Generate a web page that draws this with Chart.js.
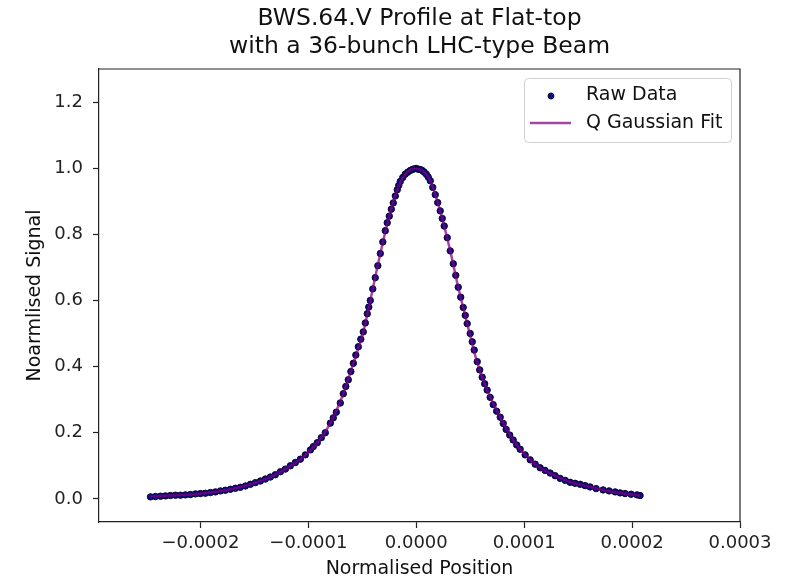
<!DOCTYPE html>
<html>
<head>
<meta charset="utf-8">
<script src="https://cdn.jsdelivr.net/npm/chart.js"></script>
<style>
  html, body { margin: 0; padding: 0; background: #fff; }
  #wrap { width: 793px; height: 580px; }
</style>
</head>
<body>
<div id="wrap"><canvas id="chart" width="793" height="580"></canvas></div>
<script>
// values
const titleLines = ['BWS.64.V Profile at Flat-top', 'with a 36-bunch LHC-type Beam'];
const xLabel = 'Normalised Position';
const yLabel = 'Noarmlised Signal';
const xTicks = [-0.0002, -0.0001, 0, 0.0001, 0.0002, 0.0003];
const yTicks = [0, 0.2, 0.4, 0.6, 0.8, 1.0, 1.2];

// raw profile samples (position, signal)
const rawPos = [
  -2.463e-4, -2.417e-4, -2.370e-4, -2.324e-4, -2.278e-4, -2.231e-4, -2.185e-4, -2.139e-4,
  -2.093e-4, -2.046e-4, -2.000e-4, -1.954e-4, -1.907e-4, -1.861e-4, -1.815e-4, -1.769e-4,
  -1.722e-4, -1.676e-4, -1.630e-4, -1.583e-4, -1.537e-4, -1.491e-4, -1.444e-4, -1.398e-4,
  -1.352e-4, -1.306e-4, -1.259e-4, -1.213e-4, -1.167e-4, -1.120e-4, -1.074e-4, -1.028e-4,
  -0.981e-4, -0.954e-4, -0.917e-4, -0.880e-4, -0.843e-4, -0.796e-4, -0.769e-4, -0.741e-4,
  -0.704e-4, -0.676e-4, -0.653e-4, -0.630e-4, -0.606e-4, -0.583e-4, -0.560e-4, -0.537e-4,
  -0.514e-4, -0.491e-4, -0.472e-4, -0.454e-4, -0.440e-4, -0.426e-4, -0.403e-4, -0.380e-4,
  -0.356e-4, -0.333e-4, -0.310e-4, -0.287e-4, -0.269e-4, -0.250e-4, -0.231e-4, -0.213e-4,
  -0.194e-4, -0.176e-4, -0.162e-4, -0.148e-4, -0.125e-4, -0.102e-4, -0.079e-4, -0.056e-4,
  -0.037e-4, -0.019e-4, 0, 0.019e-4, 0.037e-4, 0.056e-4, 0.074e-4, 0.093e-4,
  0.111e-4, 0.130e-4, 0.153e-4, 0.176e-4, 0.199e-4, 0.222e-4, 0.241e-4, 0.259e-4,
  0.287e-4, 0.315e-4, 0.343e-4, 0.366e-4, 0.389e-4, 0.412e-4, 0.435e-4, 0.454e-4,
  0.472e-4, 0.500e-4, 0.519e-4, 0.537e-4, 0.565e-4, 0.588e-4, 0.611e-4, 0.634e-4,
  0.657e-4, 0.685e-4, 0.713e-4, 0.745e-4, 0.778e-4, 0.806e-4, 0.833e-4, 0.866e-4,
  0.898e-4, 0.931e-4, 0.963e-4, 1.009e-4, 1.056e-4, 1.102e-4, 1.148e-4, 1.194e-4,
  1.241e-4, 1.287e-4, 1.333e-4, 1.380e-4, 1.426e-4, 1.472e-4, 1.519e-4, 1.565e-4,
  1.611e-4, 1.667e-4, 1.731e-4, 1.787e-4, 1.843e-4, 1.889e-4, 1.935e-4, 1.991e-4,
  2.046e-4, 2.074e-4
];
const rawSignal = [
  0.006, 0.007, 0.008, 0.009, 0.010, 0.011, 0.011, 0.012,
  0.013, 0.015, 0.016, 0.017, 0.019, 0.021, 0.024, 0.026,
  0.029, 0.032, 0.035, 0.039, 0.044, 0.049, 0.054, 0.060,
  0.066, 0.073, 0.082, 0.090, 0.100, 0.110, 0.120, 0.133,
  0.148, 0.158, 0.170, 0.185, 0.200, 0.229, 0.245, 0.262,
  0.290, 0.318, 0.340, 0.360, 0.385, 0.410, 0.435, 0.460,
  0.483, 0.505, 0.532, 0.560, 0.580, 0.600, 0.635, 0.669,
  0.705, 0.742, 0.777, 0.811, 0.835, 0.855, 0.876, 0.895,
  0.916, 0.935, 0.948, 0.960, 0.972, 0.982, 0.988, 0.993,
  0.996, 0.998, 0.999, 0.997, 0.996, 0.993, 0.988, 0.982,
  0.973, 0.962, 0.942, 0.920, 0.896, 0.871, 0.848, 0.825,
  0.790, 0.750, 0.711, 0.676, 0.640, 0.610, 0.579, 0.555,
  0.530, 0.500, 0.475, 0.450, 0.415, 0.390, 0.368, 0.348,
  0.329, 0.307, 0.285, 0.265, 0.247, 0.228, 0.210, 0.193,
  0.178, 0.163, 0.150, 0.133, 0.118, 0.105, 0.094, 0.086,
  0.078, 0.070, 0.062, 0.056, 0.050, 0.047, 0.044, 0.040,
  0.036, 0.031, 0.027, 0.024, 0.021, 0.018, 0.016, 0.014,
  0.012, 0.010
];

// q-gaussian fit curve (position, signal)
const fitPos = [
  -2.463e-4, -2.278e-4, -2.093e-4, -1.907e-4, -1.722e-4, -1.537e-4, -1.352e-4, -1.167e-4,
  -1.028e-4, -0.917e-4, -0.796e-4, -0.676e-4, -0.583e-4, -0.491e-4, -0.426e-4, -0.333e-4,
  -0.250e-4, -0.176e-4, -0.102e-4, -0.019e-4, 0.056e-4, 0.130e-4, 0.222e-4, 0.315e-4,
  0.389e-4, 0.472e-4, 0.565e-4, 0.657e-4, 0.778e-4, 0.898e-4, 1.009e-4, 1.148e-4,
  1.287e-4, 1.426e-4, 1.565e-4, 1.731e-4, 1.889e-4, 2.074e-4
];
const fitSignal = [
  0.007, 0.010, 0.013, 0.019, 0.029, 0.044, 0.066, 0.099,
  0.132, 0.170, 0.229, 0.318, 0.410, 0.505, 0.600, 0.742,
  0.855, 0.935, 0.982, 0.998, 0.993, 0.962, 0.871, 0.750,
  0.640, 0.530, 0.412, 0.329, 0.247, 0.178, 0.133, 0.094,
  0.070, 0.051, 0.040, 0.027, 0.018, 0.010
];

const rawPoints = rawPos.map((x, i) => ({ x, y: rawSignal[i] }));
const fitPoints = fitPos.map((x, i) => ({ x, y: fitSignal[i] }));

const FONT = 'DejaVu Sans';
const DOT_FILL = '#0c0c8a';
const DOT_EDGE = '#06062a';
const FIT_COLOR = 'rgba(128, 0, 128, 0.72)';

const fmtX = v => {
  const s = Math.abs(v).toFixed(4);
  return (v < -1e-9 ? '\u2212' : '') + s;
};

const decor = {
  id: 'decor',
  afterDraw(chart) {
    const { ctx, chartArea: a } = chart;
    ctx.save();
    // frame top/right
    ctx.strokeStyle = '#222';
    ctx.lineWidth = 1.2;
    ctx.beginPath();
    ctx.moveTo(a.left, a.top);
    ctx.lineTo(a.right, a.top);
    ctx.lineTo(a.right, a.bottom);
    ctx.stroke();

    const cx = (a.left + a.right) / 2;
    ctx.fillStyle = '#111';
    ctx.textAlign = 'center';
    ctx.textBaseline = 'middle';
    ctx.font = `23.5px ${FONT}`;
    ctx.fillText(titleLines[0], cx, 19);
    ctx.fillText(titleLines[1], cx, 47);

    ctx.font = `19px ${FONT}`;
    ctx.fillText(xLabel, cx, 569);
    ctx.save();
    ctx.translate(35, (a.top + a.bottom) / 2);
    ctx.rotate(-Math.PI / 2);
    ctx.fillText(yLabel, 0, 0);
    ctx.restore();

    // legend
    const lx = 524, ly = 78, lw = 207, lh = 64, r = 4;
    ctx.fillStyle = 'rgba(255,255,255,0.8)';
    ctx.strokeStyle = '#d0d0d0';
    ctx.lineWidth = 1;
    ctx.beginPath();
    ctx.roundRect(lx + 0.5, ly + 0.5, lw, lh, r);
    ctx.fill();
    ctx.stroke();

    ctx.beginPath();
    ctx.arc(551, 96, 3, 0, Math.PI * 2);
    ctx.fillStyle = DOT_FILL;
    ctx.fill();
    ctx.strokeStyle = DOT_EDGE;
    ctx.stroke();

    ctx.strokeStyle = FIT_COLOR;
    ctx.lineWidth = 2.5;
    ctx.beginPath();
    ctx.moveTo(530, 123);
    ctx.lineTo(571, 123);
    ctx.stroke();

    ctx.fillStyle = '#111';
    ctx.textAlign = 'left';
    ctx.font = `19px ${FONT}`;
    ctx.fillText('Raw Data', 586, 95);
    ctx.fillText('Q Gaussian Fit', 586, 123);
    ctx.restore();
  }
};

new Chart(document.getElementById('chart'), {
  type: 'scatter',
  data: {
    datasets: [
      {
        label: 'Q Gaussian Fit',
        data: fitPoints,
        showLine: true,
        borderColor: FIT_COLOR,
        borderWidth: 2.5,
        pointRadius: 0,
        cubicInterpolationMode: 'monotone',
        order: 0
      },
      {
        label: 'Raw Data',
        data: rawPoints,
        pointRadius: 3.2,
        pointBackgroundColor: DOT_FILL,
        pointBorderColor: DOT_EDGE,
        pointBorderWidth: 1,
        order: 1
      }
    ]
  },
  options: {
    responsive: false,
    animation: false,
    layout: { padding: { top: 69, right: 53, left: 0, bottom: 0 } },
    plugins: { legend: { display: false }, title: { display: false }, tooltip: { enabled: false } },
    scales: {
      x: {
        type: 'linear',
        min: -0.000294,
        max: 0.0003,
        afterBuildTicks: s => { s.ticks = xTicks.map(v => ({ value: v })); },
        afterFit: s => { s.height = 58; },
        grid: { drawOnChartArea: false, drawTicks: true, tickLength: 6, color: '#222', tickWidth: 1.2 },
        border: { display: true, color: '#222', width: 1.2 },
        ticks: { color: '#222', font: { family: FONT, size: 18 }, padding: 5, maxRotation: 0, callback: v => fmtX(v) }
      },
      y: {
        type: 'linear',
        min: -0.07,
        max: 1.3,
        afterBuildTicks: s => { s.ticks = yTicks.map(v => ({ value: v })); },
        afterFit: s => { s.width = 99; },
        grid: { drawOnChartArea: false, drawTicks: true, tickLength: 6, color: '#222', tickWidth: 1.2 },
        border: { display: true, color: '#222', width: 1.2 },
        ticks: { color: '#222', font: { family: FONT, size: 18 }, padding: 10, callback: v => v.toFixed(1) }
      }
    }
  },
  plugins: [decor]
});
</script>
</body>
</html>
